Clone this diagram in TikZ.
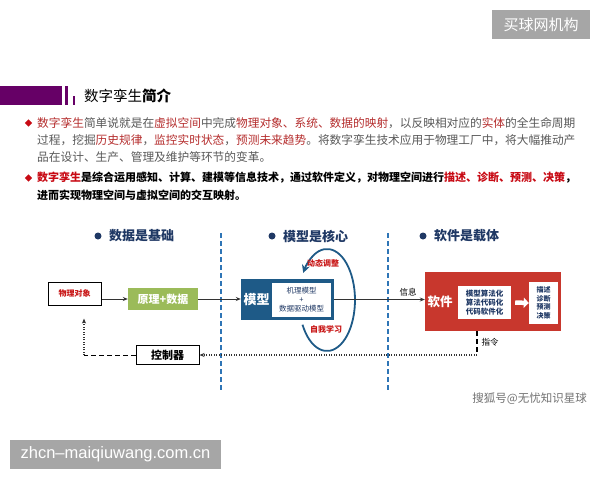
\documentclass[tikz,border=0pt]{standalone}
\usepackage{fontspec}
\setmainfont{Noto Sans CJK SC}
\newfontfamily\latinsans{Liberation Sans}
\usetikzlibrary{arrows.meta,shapes.geometric}
\definecolor{hpurple}{RGB}{102,0,102}
\definecolor{txtgray}{RGB}{89,89,89}
\definecolor{hlred}{RGB}{181,45,45}
\definecolor{hlred2}{RGB}{200,10,20}
\definecolor{navy}{RGB}{31,56,100}
\definecolor{modelblue}{RGB}{30,90,135}
\definecolor{dashblue}{RGB}{46,117,182}
\definecolor{prgreen}{RGB}{155,187,89}
\definecolor{swred}{RGB}{200,55,45}
\definecolor{wmgray}{RGB}{166,166,166}
\definecolor{lblred}{RGB}{200,20,20}
\newcommand{\hla}[1]{\textcolor{hlred}{#1}}
\newcommand{\hlb}[1]{\textcolor{hlred2}{#1}}
\begin{document}
\begin{tikzpicture}[x=1pt,y=-1pt,
  ptext/.style={anchor=west,inner sep=0,text=txtgray,font=\fontsize{11.7}{13}\selectfont},
  ptextb/.style={anchor=west,inner sep=0,text=black,font=\bfseries\fontsize{11}{13}\selectfont},
  bul/.style={diamond,fill=hlred2,inner sep=0,minimum size=7.5pt},
  sechead/.style={anchor=west,inner sep=0,text=navy,font=\bfseries\fontsize{13}{15}\selectfont},
  box/.style={draw=black,line width=1pt,inner sep=0},
  arr/.style={-{Stealth[length=5pt,width=4pt]},line width=0.8pt,draw=black!80},
  dotl/.style={dash pattern=on 1pt off 1.5pt,line width=1.1pt},
  vdash/.style={draw=dashblue,line width=1.5pt,dash pattern=on 5pt off 3pt},
  small/.style={font=\fontsize{7.5}{9}\selectfont,text=navy,align=center,inner sep=0},
  redlbl/.style={text=lblred,font=\bfseries\fontsize{8}{9}\selectfont,inner sep=0},
  wm/.style={fill=wmgray,text=white,inner sep=0}]
\useasboundingbox (0,0) rectangle (600,480);
\fill[white] (0,0) rectangle (600,480);
% watermark top
\node[wm,minimum width=98pt,minimum height=29pt,font=\fontsize{15}{17}\selectfont] (wm1) at (541,24.5) {买球网机构};
% header
\fill[hpurple] (0,86) rectangle (62,105);
\fill[hpurple] (65,86) rectangle (67.5,105);
\fill[hpurple] (72.5,96) rectangle (75,105);
\node[anchor=west,inner sep=0,font=\fontsize{14.5}{16}\selectfont] (title) at (84,96) {数字孪生\textbf{简介}};
% paragraph 1
\node[bul] (b1) at (28.5,123) {};
\node[ptext] (l1) at (37,123) {\hla{数字孪生}简单说就是在\hla{虚拟空间}中完成\hla{物理对象、系统、数据的映射}，以反映相对应的\hla{实体}的全生命周期};
\node[ptext] (l2) at (37,140) {过程，挖掘\hla{历史规律}，\hla{监控实时状态}，\hla{预测未来趋势}。将数字孪生技术应用于物理工厂中，将大幅推动产};
\node[ptext] (l3) at (37,157) {品在设计、生产、管理及维护等环节的变革。};
% paragraph 2
\node[bul] (b2) at (28.5,178) {};
\node[ptextb] (m1) at (37,178) {\hlb{数字孪生}是综合运用感知、计算、建模等信息技术，通过软件定义，对物理空间进行\hlb{描述、诊断、预测、决策}，};
\node[ptextb] (m2) at (37,195) {进而实现物理空间与虚拟空间的交互映射。};
% section headings
\fill[navy] (98,236) circle (3.5pt);
\node[sechead] (h1) at (109,236) {数据是基础};
\fill[navy] (272,236) circle (3.5pt);
\node[sechead] (h2) at (283,236) {模型是核心};
\fill[navy] (423,236) circle (3.5pt);
\node[sechead] (h3) at (434,236) {软件是载体};
% dashed separators
\draw[vdash] (221,233) -- (221,391);
\draw[vdash] (388,233) -- (388,391);
% physical object
\node[box,minimum width=53pt,minimum height=23pt,text=lblred,font=\bfseries\fontsize{8}{9}\selectfont] (obj) at (74.5,293.5) {\raisebox{-4pt}{物理对象}};
% principle + data
\node[fill=prgreen,inner sep=0,minimum width=70pt,minimum height=22pt,text=white,font=\bfseries\fontsize{11}{12}\selectfont] (prin) at (163,299) {原理+数据};
\draw[arr] (obj.east |- prin.west) -- (prin.west);
% model
\node[fill=modelblue,inner sep=0,minimum width=93pt,minimum height=41pt] (model) at (287.5,299.5) {};
\node[text=white,inner sep=0,font=\bfseries\fontsize{13}{15}\selectfont] (modellbl) at (256.5,299.5) {模型};
\node[fill=white,small,minimum width=59pt,minimum height=34pt] (modelin) at (301.5,300) {机理模型\\+\\数据驱动模型};
\draw[arr] (prin.east) -- (prin.east -| model.west);
% loop
\draw[draw=modelblue,line width=1.8pt,-{Stealth[length=8pt,width=8pt]}] (302.5,324.7) arc[start angle=151,end angle=-148,x radius=28,y radius=51];
\node[redlbl] (dyn) at (323,263) {动态调整};
\node[redlbl] (self) at (326,329) {自我学习};
% software
\node[fill=swred,inner sep=0,minimum width=136pt,minimum height=59pt] (sw) at (493,301.5) {};
\node[text=white,inner sep=0,font=\bfseries\fontsize{12.5}{14}\selectfont] (swlbl) at (440,302) {软件};
\node[fill=white,small,font=\bfseries\fontsize{7.5}{9}\selectfont,minimum width=53pt,minimum height=33pt] (swin) at (484.5,302.5) {模型算法化\\算法代码化\\代码软件化};
\node[fill=white,small,font=\bfseries\fontsize{7}{8.5}\selectfont,minimum width=29pt,minimum height=42pt] (swout) at (543.5,303) {描述\\诊断\\预测\\决策};
\draw[white,line width=4.5pt,-{Triangle[length=5pt,width=10pt]}] (swin.east) ++(4,0) -- (swout.west);
\draw[arr] (model.east) -- (sw.west |- model.east);
\node[inner sep=0,font=\fontsize{8.5}{10}\selectfont] (info) at (408,292) {信息};
% controller and feedback
\node[box,minimum width=63pt,minimum height=19pt,font=\bfseries\fontsize{11}{12}\selectfont] (ctrl) at (167.5,355) {控制器};
\coordinate (cmd) at (477,355);
\coordinate (corner) at (84,355);
\draw[line width=1.6pt,dash pattern=on 5pt off 3pt] (sw.south -| cmd) -- (cmd);
\node[inner sep=0,font=\fontsize{8.5}{10}\selectfont] (cmdl) at (490,342) {指令};
\draw[arr,dotl] (cmd) -- (ctrl.east);
\draw[line width=1pt,dash pattern=on 5pt off 3pt] (ctrl.west) -- (corner);
\draw[arr,dotl,shorten >=13pt] (corner) -- (obj.south -| corner);
% watermarks
\node[anchor=east,inner sep=0,text=black!55,font=\fontsize{11.5}{13}\selectfont] (wm3) at (587,399) {搜狐号@无忧知识星球};
\node[wm,minimum width=211pt,minimum height=29pt,font=\latinsans\fontsize{16.5}{18}\selectfont] (wm2) at (115.5,454.5) {zhcn–maiqiuwang.com.cn};
\end{tikzpicture}
\end{document}
